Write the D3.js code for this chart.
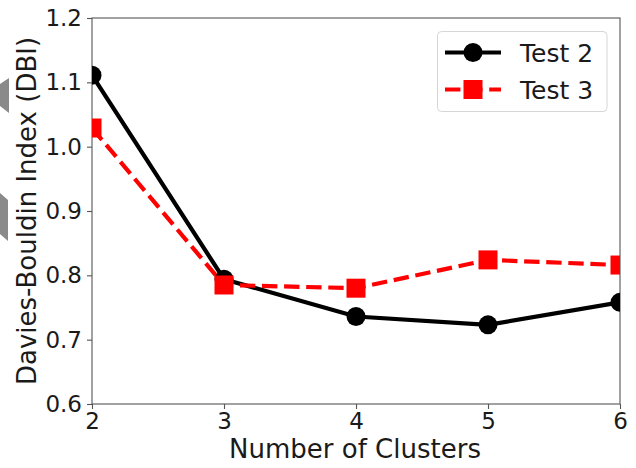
<!DOCTYPE html>
<html>
<head>
<meta charset="utf-8">
<script src="https://cdn.jsdelivr.net/npm/d3@7"></script>
<style>
  html, body { margin: 0; padding: 0; background: #fff; }
  svg { display: block; }
  text { font-family: "DejaVu Sans", sans-serif; fill: #1a1a1a; }
</style>
</head>
<body>
<svg id="chart" width="636" height="468"></svg>
<script>
// Cluster counts and DBI scores per test
const clusters = [2, 3, 4, 5, 6];
const test2 = [1.111, 0.794, 0.736, 0.723, 0.758];
const test3 = [1.029, 0.785, 0.780, 0.824, 0.816];
const yTicks = [0.6, 0.7, 0.8, 0.9, 1.0, 1.1, 1.2];
const seriesNames = ["Test 2", "Test 3"];

const svg = d3.select("#chart");
const plotL = 92, plotR = 620, plotT = 18, plotB = 404;

const x = d3.scaleLinear().domain([2, 6]).range([plotL, plotR]);
const y = d3.scaleLinear().domain([0.6, 1.2]).range([plotB, plotT]);

// decorative fragments at the left edge
svg.append("polygon").attr("points", "0,84 9,78 9,113 0,106").attr("fill", "#8a8a8a");
svg.append("polygon").attr("points", "0,193 8,200 8,241 0,234").attr("fill", "#8a8a8a");

svg.append("defs").append("clipPath").attr("id", "plotclip")
  .append("rect").attr("x", plotL).attr("y", plotT).attr("width", plotR - plotL).attr("height", plotB - plotT);

// axes
const xAxis = d3.axisBottom(x).tickValues(clusters).tickFormat(d3.format("d")).tickSize(5).tickPadding(4);
const yAxis = d3.axisLeft(y).tickValues(yTicks).tickFormat(d3.format(".1f")).tickSize(5).tickPadding(5);

const gx = svg.append("g").attr("transform", `translate(0,${plotB})`).call(xAxis);
const gy = svg.append("g").attr("transform", `translate(${plotL},0)`).call(yAxis);
[gx, gy].forEach(g => {
  g.select(".domain").remove();
  g.selectAll(".tick line").attr("stroke", "#555").attr("stroke-width", 1.1);
  g.selectAll(".tick text").style("font-size", "23px").attr("fill", "#1a1a1a");
});

// frame
svg.append("rect").attr("x", plotL).attr("y", plotT).attr("width", plotR - plotL).attr("height", plotB - plotT)
  .attr("fill", "none").attr("stroke", "#555").attr("stroke-width", 1.1);

// axis titles
svg.append("text").attr("x", (plotL + plotR) / 2 - 1).attr("y", 458).attr("text-anchor", "middle")
  .style("font-size", "26px").text("Number of Clusters");
svg.append("text").attr("transform", `translate(36,${(plotT + plotB) / 2}) rotate(-90)`)
  .attr("text-anchor", "middle").style("font-size", "26px").text("Davies-Bouldin Index (DBI)");

const line = d3.line().x((d, i) => x(clusters[i])).y(d => y(d));
const plot = svg.append("g").attr("clip-path", "url(#plotclip)");

// Test 2: solid black with circles
plot.append("path").datum(test2).attr("d", line).attr("fill", "none")
  .attr("stroke", "#000").attr("stroke-width", 4.2).attr("stroke-linejoin", "round");
plot.selectAll("circle.t2").data(test2).join("circle").attr("class", "t2")
  .attr("cx", (d, i) => x(clusters[i])).attr("cy", d => y(d)).attr("r", 9.5).attr("fill", "#000");

// Test 3: dashed red with squares
plot.append("path").datum(test3).attr("d", line).attr("fill", "none")
  .attr("stroke", "#ff0000").attr("stroke-width", 4.2).attr("stroke-dasharray", "15.4,6.7");
const sq = 19;
plot.selectAll("rect.t3").data(test3).join("rect").attr("class", "t3")
  .attr("x", (d, i) => x(clusters[i]) - sq / 2).attr("y", d => y(d) - sq / 2)
  .attr("width", sq).attr("height", sq).attr("fill", "#ff0000");

// legend
const lg = svg.append("g");
lg.append("rect").attr("x", 437.5).attr("y", 31.5).attr("width", 169.5).attr("height", 80)
  .attr("rx", 4).attr("fill", "#fff").attr("fill-opacity", 0.8).attr("stroke", "#d6d6d6").attr("stroke-width", 1);
const rows = [52.5, 89.5];
const lx0 = 445, lx1 = 501, lxm = 473;
lg.append("line").attr("x1", lx0).attr("x2", lx1).attr("y1", rows[0]).attr("y2", rows[0])
  .attr("stroke", "#000").attr("stroke-width", 4.2);
lg.append("circle").attr("cx", lxm).attr("cy", rows[0]).attr("r", 9.5).attr("fill", "#000");
lg.append("line").attr("x1", lx0).attr("x2", lx1).attr("y1", rows[1]).attr("y2", rows[1])
  .attr("stroke", "#ff0000").attr("stroke-width", 4.2).attr("stroke-dasharray", "15.4,6.7");
lg.append("rect").attr("x", lxm - sq / 2).attr("y", rows[1] - sq / 2).attr("width", sq).attr("height", sq).attr("fill", "#ff0000");
seriesNames.forEach((n, i) => {
  lg.append("text").attr("x", 520).attr("y", rows[i]).attr("dy", "0.36em")
    .style("font-size", "25px").text(n);
});
</script>
</body>
</html>
